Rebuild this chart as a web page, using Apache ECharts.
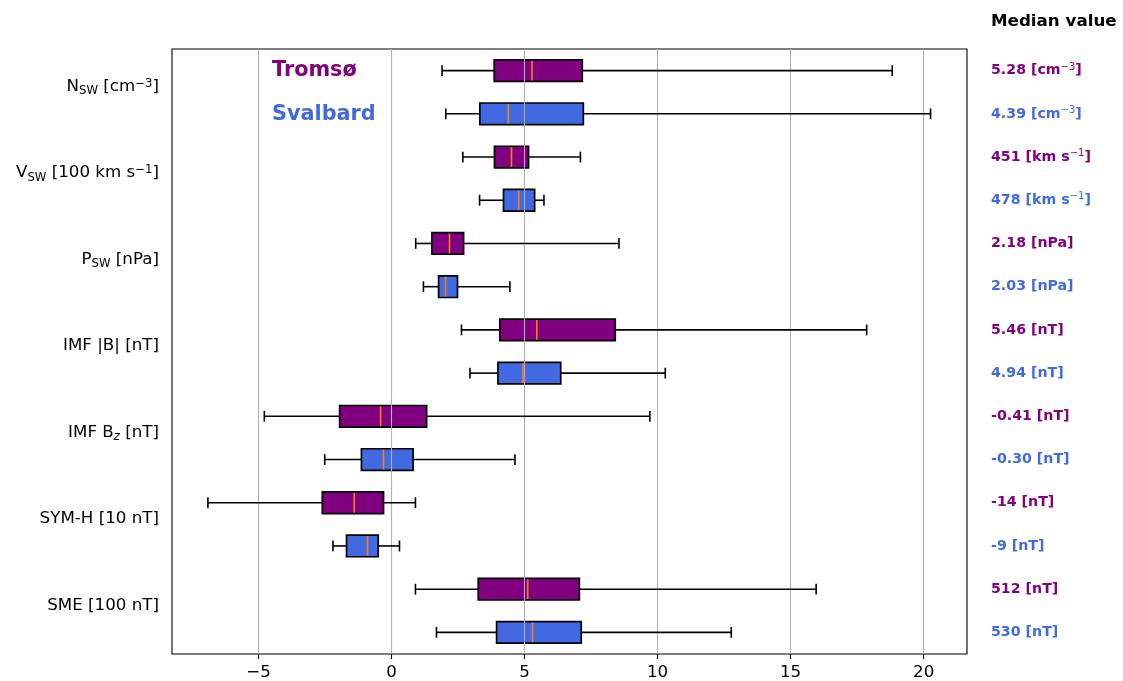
<!DOCTYPE html>
<html>
<head>
<meta charset="utf-8">
<script src="https://cdn.jsdelivr.net/npm/echarts@6/dist/echarts.min.js"></script>
<style>
  html, body { margin: 0; padding: 0; background: #fff; }
  #chart { width: 1123px; height: 681px; }
</style>
</head>
<body>
<div id="chart"></div>
<script>
// Quantities (one pair of rows each: Tromsø then Svalbard)
const quantities = [
  'N{sub|SW} [cm{sup|−3}]',
  'V{sub|SW} [100 km s{sup|−1}]',
  'P{sub|SW} [nPa]',
  'IMF |B| [nT]',
  'IMF B{subi|z} [nT]',
  'SYM-H [10 nT]',
  'SME [100 nT]'
];
const stations = ['Tromsø', 'Svalbard'];

// Box statistics per row (row order: quantity-by-quantity, Tromsø first)
const whiskerLow  = [1.90, 2.04, 2.68, 3.31, 0.91, 1.20, 2.63, 2.95, -4.78, -2.51, -6.90, -2.20, 0.90, 1.69];
const quartile1   = [3.86, 3.32, 3.87, 4.21, 1.52, 1.77, 4.07, 4.00, -1.95, -1.13, -2.60, -1.69, 3.26, 3.95];
const medians     = [5.28, 4.39, 4.51, 4.78, 2.18, 2.03, 5.46, 4.94, -0.41, -0.30, -1.40, -0.90, 5.12, 5.30];
const quartile3   = [7.17, 7.21, 5.15, 5.38, 2.71, 2.48, 8.41, 6.36, 1.32, 0.81, -0.30, -0.50, 7.06, 7.13];
const whiskerHigh = [18.82, 20.26, 7.10, 5.73, 8.55, 4.45, 17.86, 10.29, 9.71, 4.64, 0.90, 0.30, 15.96, 12.77];

// Median annotation: scale back to physical units, decimals, unit text and its exponent
const medianScale    = [1, 100, 1, 1, 1, 10, 100];
const medianDecimals = [2, 0, 2, 2, 2, 0, 0];
const medianUnit     = ['cm', 'km s', 'nPa', 'nT', 'nT', 'nT', 'nT'];
const medianExponent = ['−3', '−1', '', '', '', '', ''];

const xTicks = [-5, 0, 5, 10, 15, 20];

const colors = ['#800080', '#4169e1'];
const FONT = 'DejaVu Sans';

const rowNames = [];
quantities.forEach((q, i) => stations.forEach(s => rowNames.push(i + ' ' + s)));

const rows = medians.map((m, i) => [whiskerLow[i], quartile1[i], m, quartile3[i], whiskerHigh[i], i]);

function medianLabel(idx) {
  const g = Math.floor(idx / 2), s = idx % 2;
  const val = (medians[idx] * medianScale[g]).toFixed(medianDecimals[g]);
  let txt = `{m${s}|${val} [${medianUnit[g]}}`;
  if (medianExponent[g]) txt += `{e${s}|${medianExponent[g]}}`;
  return txt + `{m${s}|]}`;
}

const chart = echarts.init(document.getElementById('chart'), null, { renderer: 'canvas' });

const option = {
  animation: false,
  backgroundColor: '#fff',
  grid: {
    left: 172, right: 156, top: 49, bottom: 27,
    show: true, borderColor: '#000', borderWidth: 1.1, backgroundColor: 'transparent'
  },
  xAxis: {
    type: 'value',
    min: -8.25,
    max: 21.63,
    z: 2,
    axisLine: { show: false },
    axisTick: { show: true, length: 5, customValues: xTicks, lineStyle: { color: '#000', width: 1.1 } },
    axisLabel: {
      customValues: xTicks,
      color: '#000', fontFamily: FONT, fontSize: 16.7, margin: 10,
      formatter: v => (v < 0 ? '−' + Math.abs(v) : String(v))
    },
    splitLine: { show: true, customValues: xTicks, lineStyle: { color: '#b0b0b0', width: 1.1 } }
  },
  yAxis: [
    {
      type: 'category',
      data: rowNames,
      inverse: true,
      axisLine: { show: false },
      axisTick: { show: false },
      splitLine: { show: false },
      axisLabel: {
        interval: 0,
        margin: 13,
        padding: [32, 0, 0, 0],
        color: '#000', fontFamily: FONT, fontSize: 16.7,
        formatter: (v, idx) => (idx % 2 === 0 ? quantities[idx / 2] : ''),
        rich: {
          sub:  { fontFamily: FONT, fontSize: 11.7, color: '#000', padding: [9, 0, 0, 0] },
          subi: { fontFamily: FONT, fontSize: 11.7, fontStyle: 'italic', color: '#000', padding: [9, 0, 0, 0] },
          sup:  { fontFamily: FONT, fontSize: 11.7, color: '#000', padding: [0, 0, 6, 0] }
        }
      }
    },
    {
      type: 'category',
      data: rowNames,
      inverse: true,
      position: 'right',
      axisLine: { show: false },
      axisTick: { show: false },
      splitLine: { show: false },
      axisLabel: {
        interval: 0,
        margin: 24,
        align: 'left',
        formatter: (v, idx) => medianLabel(idx),
        rich: {
          m0: { fontFamily: FONT, fontSize: 14.2, fontWeight: 'bold', color: colors[0] },
          m1: { fontFamily: FONT, fontSize: 14.2, fontWeight: 'bold', color: colors[1] },
          e0: { fontFamily: FONT, fontSize: 10, color: colors[0], padding: [0, 0, 7, 0] },
          e1: { fontFamily: FONT, fontSize: 10, color: colors[1], padding: [0, 0, 7, 0] }
        }
      }
    }
  ],
  graphic: [
    { type: 'text', x: 991, y: 22, style: { text: 'Median value', fontFamily: FONT, fontSize: 16.7, fontWeight: 'bold', fill: '#000', verticalAlign: 'middle' } },
    { type: 'text', x: 272, y: 71, style: { text: stations[0], fontFamily: FONT, fontSize: 20.8, fontWeight: 'bold', fill: colors[0], verticalAlign: 'middle' } },
    { type: 'text', x: 272, y: 115, style: { text: stations[1], fontFamily: FONT, fontSize: 20.8, fontWeight: 'bold', fill: colors[1], verticalAlign: 'middle' } }
  ],
  series: [
    {
      // interquartile boxes
      type: 'custom',
      z: 1,
      silent: true,
      data: rows,
      encode: { x: [0, 1, 2, 3, 4], y: 5 },
      renderItem: (params, api) => {
        const r = api.value(5);
        const a = api.coord([api.value(1), r]);
        const b = api.coord([api.value(3), r]);
        const h = api.size([0, 1])[1] * 0.5;
        return {
          type: 'rect',
          shape: { x: a[0], y: a[1] - h / 2, width: b[0] - a[0], height: h },
          style: { fill: colors[r % 2], stroke: '#000', lineWidth: 1.7 }
        };
      }
    },
    {
      // whiskers, caps and median
      type: 'custom',
      z: 3,
      silent: true,
      data: rows,
      encode: { x: [0, 1, 2, 3, 4], y: 5 },
      renderItem: (params, api) => {
        const r = api.value(5);
        const lo = api.coord([api.value(0), r]);
        const q1 = api.coord([api.value(1), r]);
        const md = api.coord([api.value(2), r]);
        const q3 = api.coord([api.value(3), r]);
        const hi = api.coord([api.value(4), r]);
        const h = api.size([0, 1])[1] * 0.5;
        const y = lo[1];
        const black = { stroke: '#000', lineWidth: 1.6 };
        return {
          type: 'group',
          children: [
            { type: 'line', shape: { x1: lo[0], y1: y, x2: q1[0], y2: y }, style: black },
            { type: 'line', shape: { x1: q3[0], y1: y, x2: hi[0], y2: y }, style: black },
            { type: 'line', shape: { x1: lo[0], y1: y - h / 4, x2: lo[0], y2: y + h / 4 }, style: black },
            { type: 'line', shape: { x1: hi[0], y1: y - h / 4, x2: hi[0], y2: y + h / 4 }, style: black },
            { type: 'line', shape: { x1: md[0], y1: y - h / 2 + 0.9, x2: md[0], y2: y + h / 2 - 0.9 }, style: { stroke: '#ff7f0e', lineWidth: 1.6 } }
          ]
        };
      }
    }
  ]
};

chart.setOption(option);
</script>
</body>
</html>
